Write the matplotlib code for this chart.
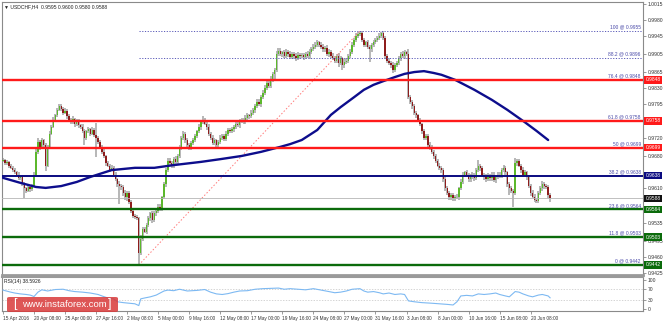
import matplotlib
matplotlib.use("Agg")
import matplotlib.pyplot as plt
import matplotlib.transforms as mtransforms
from matplotlib.patches import FancyBboxPatch

plt.rcParams["font.family"] = ["Liberation Sans", "DejaVu Sans"]

# ---------------- data ----------------
title = "\u25BC USDCHF,H4  0.9595 0.9600 0.9580 0.9588"
rsi_title = "RSI(14) 38.5926"

first_open = 0.9670
closes = [
    0.9672, 0.9665, 0.9668, 0.9660, 0.9655, 0.9650, 0.9645, 0.9640, 0.9632,
    0.9636, 0.9620, 0.9610, 0.9605, 0.9612, 0.9608, 0.9615,
    0.9640, 0.9690,
    0.9712, 0.9700, 0.9715, 0.9705,
    0.9660, 0.9700,
    0.9730, 0.9745, 0.9760, 0.9770, 0.9782, 0.9790, 0.9785,
    0.9775, 0.9780, 0.9768, 0.9760, 0.9755, 0.9762, 0.9750, 0.9758, 0.9748,
    0.9745, 0.9735, 0.9720, 0.9735, 0.9740, 0.9730, 0.9738, 0.9728, 0.9720, 0.9712,
    0.9700, 0.9690, 0.9680, 0.9665, 0.9660, 0.9650, 0.9655,
    0.9640, 0.9630, 0.9620, 0.9615, 0.9612,
    0.9600, 0.9590, 0.9600, 0.9580,
    0.9560, 0.9550, 0.9548, 0.9545,
    0.9468,
    0.9500, 0.9520, 0.9515, 0.9530,
    0.9545, 0.9555, 0.9540, 0.9555, 0.9560, 0.9570, 0.9565,
    0.9590, 0.9620, 0.9650, 0.9670,
    0.9665, 0.9660, 0.9675, 0.9668, 0.9680,
    0.9700, 0.9720, 0.9730,
    0.9715, 0.9705, 0.9700, 0.9710, 0.9715,
    0.9725, 0.9735, 0.9745, 0.9755, 0.9760, 0.9752, 0.9745,
    0.9730, 0.9720, 0.9710, 0.9715, 0.9705, 0.9712, 0.9720,
    0.9725, 0.9718, 0.9730, 0.9738, 0.9735,
    0.9740, 0.9745, 0.9750, 0.9748, 0.9758,
    0.9760, 0.9755, 0.9765, 0.9770, 0.9768, 0.9775, 0.9782,
    0.9790, 0.9800, 0.9795, 0.9810, 0.9820, 0.9830, 0.9840,
    0.9835, 0.9850, 0.9860,
    0.9870, 0.9905, 0.9912,
    0.9905, 0.9908, 0.9900, 0.9910, 0.9905, 0.9898, 0.9905, 0.9900, 0.9895, 0.9903, 0.9900, 0.9902,
    0.9898, 0.9905, 0.9900, 0.9910, 0.9915, 0.9920,
    0.9925, 0.9930, 0.9925, 0.9920, 0.9915,
    0.9918, 0.9905, 0.9910, 0.9900, 0.9895,
    0.9890, 0.9900, 0.9885, 0.9895, 0.9880, 0.9888, 0.9890,
    0.9900, 0.9910, 0.9925, 0.9935, 0.9945, 0.9948, 0.9950,
    0.9935, 0.9925, 0.9930, 0.9920, 0.9915, 0.9925, 0.9930,
    0.9935, 0.9940, 0.9945, 0.9950, 0.9940,
    0.9900, 0.9890,
    0.9885, 0.9880, 0.9870, 0.9880, 0.9885,
    0.9895, 0.9905, 0.9900, 0.9908, 0.9905,
    0.9810,
    0.9800, 0.9790, 0.9775, 0.9770, 0.9760,
    0.9750, 0.9735, 0.9720, 0.9725, 0.9705, 0.9700, 0.9690, 0.9680, 0.9670, 0.9660,
    0.9655, 0.9650,
    0.9630, 0.9610, 0.9600, 0.9590, 0.9595,
    0.9588, 0.9592, 0.9590,
    0.9610, 0.9625, 0.9640, 0.9645,
    0.9640, 0.9630, 0.9635, 0.9640, 0.9632,
    0.9650, 0.9660, 0.9655,
    0.9640, 0.9635, 0.9630, 0.9638, 0.9632, 0.9640, 0.9628, 0.9635, 0.9640, 0.9636,
    0.9650, 0.9655, 0.9645,
    0.9620, 0.9610, 0.9605,
    0.9600,
    0.9665, 0.9670,
    0.9660, 0.9650, 0.9640, 0.9645, 0.9635,
    0.9615, 0.9600, 0.9592,
    0.9585, 0.9582,
    0.9600, 0.9610, 0.9620, 0.9615, 0.9612,
    0.9595, 0.9588,
]
# wick extensions beyond the body, in pips
wick_up = [
    4, 3, 5, 3, 4, 3, 4, 3, 5,
    4, 3, 5, 4, 6, 3, 5,
    5, 6,
    8, 5, 6, 4,
    4, 5,
    5, 4, 6, 3, 5, 5, 4,
    4, 6, 3, 5, 4, 6, 3, 5, 4,
    4, 5, 6, 4, 5, 3, 6, 4, 25, 4,
    5, 4, 6, 3, 5, 4, 6,
    4, 5, 3, 6, 4,
    5, 6, 4, 5,
    4, 5, 3, 4,
    3,
    8, 5, 6, 4,
    5, 4, 6, 5, 4, 6, 5,
    4, 5, 4, 6,
    6, 5, 4, 5, 6,
    5, 4, 6,
    4, 6, 5, 4, 5,
    5, 4, 6, 5, 8, 4, 5,
    5, 4, 6, 5, 4, 5, 6,
    4, 5, 6, 4, 5,
    5, 4, 6, 5, 4,
    5, 4, 6, 5, 4, 6, 5,
    4, 5, 6, 4, 5, 6, 5,
    5, 6, 5,
    4, 6, 5,
    5, 4, 6, 5, 4, 6, 5, 4, 6, 5, 4, 5,
    5, 4, 6, 5, 4, 6,
    5, 6, 4, 5, 6,
    4, 6, 5, 4, 6,
    5, 4, 6, 5, 4, 6, 5,
    4, 5, 6, 4, 5, 4, 5,
    6, 5, 4, 6, 5, 4, 6,
    5, 4, 6, 2, 5,
    4, 5,
    5, 4, 6, 5, 4,
    5, 4, 6, 5, 4,
    10,
    5, 4, 6, 5, 4,
    5, 4, 6, 5, 4, 6, 5, 4, 6, 5,
    5, 4,
    5, 4, 6, 5, 4,
    5, 4, 6,
    4, 5, 6, 4,
    5, 4, 6, 5, 4,
    5, 12, 4,
    5, 4, 6, 5, 4, 6, 5, 4, 6, 5,
    5, 6, 4,
    4, 5, 6,
    4,
    12, 5,
    5, 4, 6, 5, 4,
    5, 4, 6,
    5, 4,
    4, 5, 6, 5, 4,
    5, 5,
]
wick_dn = [
    3, 4, 3, 5, 3, 4, 3, 4, 4,
    4, 5, 22, 6, 4, 5, 3,
    3, 4,
    4, 6, 3, 5,
    12, 3,
    3, 4, 3, 5, 4, 3, 5,
    5, 3, 6, 4, 5, 3, 6, 4, 5,
    5, 4, 15, 4, 3, 6, 4, 5, 41, 5,
    4, 5, 3, 6, 4, 5, 3,
    5, 4, 6, 40, 5,
    6, 5, 8, 5,
    5, 4, 6, 4,
    25,
    5, 6, 4, 5,
    4, 6, 5, 4, 6, 4, 5,
    5, 4, 6, 4,
    4, 6, 5, 4, 5,
    4, 5, 4,
    6, 4, 5, 6, 4,
    4, 5, 4, 6, 5, 4, 6,
    6, 5, 4, 5, 6, 4, 5,
    5, 4, 5, 6, 4,
    4, 6, 5, 4, 5,
    4, 5, 4, 6, 5, 4, 5,
    6, 4, 5, 6, 4, 5, 4,
    4, 5, 6,
    15, 5, 4,
    4, 6, 5, 4, 6, 5, 4, 6, 5, 4, 6, 5,
    6, 5, 4, 6, 5, 4,
    4, 5, 6, 4, 5,
    5, 4, 6, 5, 4,
    6, 5, 8, 5, 10, 6, 5,
    5, 4, 5, 6, 4, 5, 4,
    5, 6, 5, 4, 27, 5, 4,
    4, 5, 4, 6, 5,
    6, 5,
    4, 6, 8, 5, 4,
    4, 5, 4, 6, 5,
    5,
    6, 5, 4, 6, 5,
    4, 6, 5, 4, 6, 5, 4, 6, 5, 4,
    4, 6,
    6, 5, 4, 6, 5,
    5, 6, 4,
    5, 4, 5, 6,
    4, 6, 5, 4, 6,
    4, 5, 6,
    4, 6, 5, 4, 6, 5, 4, 6, 5, 4,
    4, 5, 6,
    6, 15, 5,
    30,
    4, 6,
    4, 6, 5, 4, 6,
    5, 6, 4,
    5, 4,
    5, 4, 5, 6, 4,
    6, 8,
]

ma_bars = [0, 9, 17, 22, 30, 38, 45, 56, 68, 78, 88, 102, 112, 123, 133, 143, 148,
           154, 158, 162, 169, 174, 181, 186, 191, 196, 202, 207, 212, 217, 222, 226,
           233, 238, 243, 252, 256, 260, 269, 275, 281]
ma_vals = [0.9633, 0.9622, 0.9613, 0.9611, 0.9615, 0.9624, 0.9635, 0.9650, 0.9655,
           0.9655, 0.9661, 0.9668, 0.9674, 0.9681, 0.9690, 0.9701, 0.9707,
           0.9716, 0.9727, 0.9738, 0.9771, 0.9788, 0.9810, 0.9826, 0.9837, 0.9845,
           0.9854, 0.9861, 0.9865, 0.9867, 0.9863, 0.9859,
           0.9848, 0.9837, 0.9826, 0.9804, 0.9793, 0.9782, 0.9755, 0.9736, 0.9716]

rsi_bars = [0, 4, 6, 9, 12, 14, 16, 18, 20, 23, 27, 31, 34, 37, 41, 45, 49, 51, 54,
            57, 59, 62, 65, 68, 70, 71, 73, 76, 79, 81, 83, 85, 88, 91, 95, 100, 104,
            107, 110, 113, 116, 119, 122, 126, 130, 134, 138, 142, 145, 148, 152, 156,
            160, 164, 168, 171, 174, 177, 180, 184, 186, 188, 191, 194, 196, 199, 202,
            205, 207, 209, 212, 216, 221, 225, 229, 232, 234, 236, 239, 242, 245, 248,
            251, 254, 256, 259, 261, 264, 266, 268, 271, 273, 276, 278, 281, 282]
rsi_vals = [65, 58, 55, 52, 50, 48, 43, 58, 66, 62, 67, 68, 63, 60, 58, 55, 50, 45, 38,
            35, 25, 22, 20, 18, 12, 35, 38, 42, 48, 55, 62, 65, 63, 68, 62, 64, 67,
            58, 52, 50, 53, 58, 62, 63, 68, 70, 71, 72, 68, 70, 68, 66,
            70, 65, 60, 56, 58, 62, 68, 70, 62, 58, 60, 56, 52, 55, 50,
            52, 50, 28, 25, 22, 20, 18, 16, 14, 25, 45, 47, 45, 52, 50,
            52, 55, 50, 45, 42, 60, 58, 52, 45, 42, 48, 50, 45, 38.59]

fib_names = ["100", "88.2", "76.4", "61.8", "50", "38.2", "23.6", "11.8", "0"]
fib_prices = [0.9955, 0.9896, 0.9848, 0.9758, 0.9699, 0.9638, 0.9564, 0.9503, 0.9442]
fib_line_kind = ["dot", "dot", "red", "red", "red", "navy", "green", "green", "green"]
fib_low_bar = 70
fib_high_bar = 184
current_price = 0.9588

# visible price scale labels (those hidden under the level tags are omitted)
price_ticks = [1.0015, 0.9980, 0.9945, 0.9905, 0.9865, 0.9830, 0.9795, 0.9720,
               0.9680, 0.9610, 0.9535, 0.9495, 0.9460, 0.9425]
date_labels = ["15 Apr 2016", "20 Apr 08:00", "25 Apr 00:00", "27 Apr 16:00",
               "2 May 08:00", "5 May 00:00", "9 May 16:00", "12 May 08:00",
               "17 May 00:00", "19 May 16:00", "24 May 08:00", "27 May 00:00",
               "31 May 16:00", "3 Jun 08:00", "8 Jun 00:00", "10 Jun 16:00",
               "15 Jun 08:00", "20 Jun 08:00"]
date_bars = [16 * i for i in range(len(date_labels))]
rsi_ticks = [100, 70, 30, 0]

# ---------------- figure ----------------
W, H = 663, 322
fig = plt.figure(figsize=(W / 100, H / 100), dpi=100)
fig.patch.set_facecolor("white")


def rect(x0, y0, x1, y1):
    return [x0 / W, 1 - y1 / H, (x1 - x0) / W, (y1 - y0) / H]


ax = fig.add_axes(rect(2, 2, 643, 275))
axr = fig.add_axes(rect(2, 277, 643, 311), sharex=ax)

FS = 3.6
GRAY = "#8a8a8a"
TXT = "#333333"

# candles
opens = [first_open] + closes[:-1]
n = len(closes)
bars = list(range(n))
bull_c = "#5cb82c"
bear_c = "#8e1c1c"
wick_c = "#a3a3a3"
for i in bars:
    o, c = opens[i], closes[i]
    top, bot = max(o, c), min(o, c)
    hi = top + wick_up[i] / 10000.0
    lo = bot - wick_dn[i] / 10000.0
    ax.vlines(i, lo, hi, color=wick_c, lw=1.1, zorder=2)
body_bot = [min(o, c) for o, c in zip(opens, closes)]
body_h = [max(abs(c - o), 0.00012) for o, c in zip(opens, closes)]
body_col = [bull_c if c >= o else bear_c for o, c in zip(opens, closes)]
ax.bar(bars, body_h, bottom=body_bot, width=0.72, color=body_col,
       edgecolor="none", zorder=3)

# moving average
ax.plot(ma_bars, ma_vals, color="#0d0d8c", lw=1.7, zorder=5,
        solid_capstyle="round", solid_joinstyle="round")

# fib / level lines
xmax_bar = 329.9
ax.plot([fib_low_bar, fib_high_bar], [fib_prices[-1], fib_prices[0]],
        color="#ff7b7b", lw=0.7, ls=(0, (1.5, 2.0)), zorder=4)
kind_style = {
    "red": dict(color="#ff1a1a", lw=1.7),
    "navy": dict(color="#0a0a80", lw=1.4),
    "green": dict(color="#0b6b0b", lw=1.7),
}
tag_color = {"red": "#ff1a1a", "navy": "#0a0a80", "green": "#0b6b0b"}
ax.axhline(current_price, color="#b5b5b5", lw=0.6, zorder=4)
blend = mtransforms.blended_transform_factory(ax.transAxes, ax.transData)
for name, p, kind in zip(fib_names, fib_prices, fib_line_kind):
    if kind == "dot":
        ax.hlines(p, fib_low_bar, xmax_bar, color="#5a5ab8", lw=0.7,
                  linestyles=(0, (1.2, 1.6)), zorder=4)
    else:
        ax.axhline(p, zorder=6, **kind_style[kind])
    ax.text(0.9965, p + 0.00030, f"{name} @ {p:.4f}", transform=blend,
            ha="right", va="bottom", fontsize=3.5, color="#4a4aa8", zorder=7)
    if kind != "dot":
        ax.text(1.004, p, f"{p:.4f}", transform=blend, ha="left", va="center",
                fontsize=3.5, color="white", clip_on=False, zorder=10,
                bbox=dict(boxstyle="square,pad=0.25", fc=tag_color[kind], ec="none"))
ax.text(1.004, current_price, f"{current_price:.4f}", transform=blend, ha="left",
        va="center", fontsize=3.5, color="white", clip_on=False, zorder=10,
        bbox=dict(boxstyle="square,pad=0.25", fc="#111111", ec="none"))

# main axes styling
ax.set_xlim(-0.515, xmax_bar)
ax.set_ylim(0.94200, 1.00186)
ax.yaxis.tick_right()
ax.set_yticks(price_ticks)
ax.set_yticklabels([f"{t:.4f}" for t in price_ticks])
ax.tick_params(axis="y", labelsize=FS, length=2, width=0.6, color=GRAY, pad=1.2,
               labelcolor=TXT)
ax.tick_params(axis="x", bottom=False, labelbottom=False)
for s in ax.spines.values():
    s.set_color(GRAY)
    s.set_linewidth(0.8)
ax.spines["bottom"].set_linewidth(2.0)
ax.spines["bottom"].set_color("#9a9a9a")
ax.text(0.003, 0.992, title, transform=ax.transAxes, fontsize=3.6, va="top",
        ha="left", color="#222222")

# RSI panel
axr.plot(rsi_bars, rsi_vals, color="#7db9f2", lw=0.8, zorder=3)
for lv in (30, 70):
    axr.axhline(lv, color="#c4c4c4", lw=0.5, ls=(0, (2, 2)), zorder=1)
axr.set_ylim(-6.7, 110)
axr.yaxis.tick_right()
axr.set_yticks(rsi_ticks)
axr.set_yticklabels([str(t) for t in rsi_ticks])
axr.tick_params(axis="y", labelsize=FS, length=2, width=0.6, color=GRAY, pad=1.2,
                labelcolor=TXT)
axr.set_xticks(date_bars)
axr.set_xticklabels(date_labels, ha="left")
axr.tick_params(axis="x", labelsize=3.4, length=2.5, width=0.6, color=GRAY, pad=1.2,
                labelcolor=TXT)
for s in axr.spines.values():
    s.set_color(GRAY)
    s.set_linewidth(0.8)
axr.spines["top"].set_linewidth(1.5)
axr.spines["top"].set_color("#9a9a9a")
axr.text(0.003, 0.93, rsi_title, transform=axr.transAxes, fontsize=3.6, va="top",
         ha="left", color="#222222")

# watermark
box = FancyBboxPatch((7 / W, 1 - 312 / H), 111 / W, 15 / H,
                     boxstyle="round,pad=0,rounding_size=0.004",
                     transform=fig.transFigure, fc="#d93a3a", ec="none",
                     alpha=0.85, zorder=20)
fig.add_artist(box)
fig.text(15 / W, 1 - 304.5 / H, "[", color="white", fontsize=9, ha="center",
         va="center", zorder=21)
fig.text(110 / W, 1 - 304.5 / H, "]", color="white", fontsize=9, ha="center",
         va="center", zorder=21)
fig.text(64 / W, 1 - 304.5 / H, "www.instaforex.com", color="white", fontsize=6.8,
         ha="center", va="center", zorder=21)

fig.savefig("out.png", dpi=100, facecolor="white")
